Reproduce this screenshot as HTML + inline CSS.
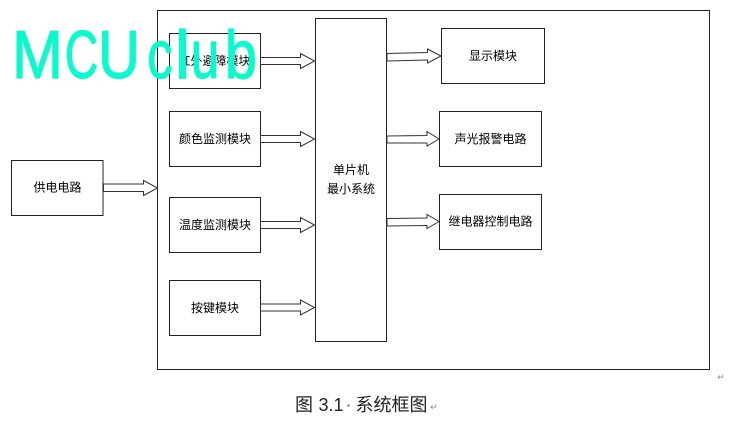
<!DOCTYPE html>
<html><head><meta charset="utf-8"><style>
html,body{margin:0;padding:0;background:#fff;width:733px;height:423px;overflow:hidden}
svg{display:block}
text{font-family:"Liberation Sans","Noto Sans CJK SC","WenQuanYi Zen Hei",sans-serif;fill:#000;font-size:12px;text-anchor:middle;dominant-baseline:central}
.b{fill:#fff;stroke:#222;stroke-width:1}
.a{fill:#fff;stroke:#333;stroke-width:1}
.w{font-size:68px;fill:#0CF9CE;stroke:#0CF9CE;stroke-width:1.2;stroke-linejoin:round;dominant-baseline:auto}
.c{font-size:18px;fill:#222}
</style></head><body>
<svg width="733" height="423" viewBox="0 0 733 423" xmlns="http://www.w3.org/2000/svg">
<rect class="b" x="157.5" y="10.5" width="552" height="359"/>
<rect class="b" x="169.5" y="33.5" width="91" height="55"/>
<rect class="b" x="169.5" y="111.5" width="91" height="55"/>
<rect class="b" x="169.5" y="197.5" width="91" height="55"/>
<rect class="b" x="169.5" y="280.5" width="91" height="55"/>
<rect class="b" x="11.5" y="160.5" width="91.5" height="55"/>
<rect class="b" x="315.5" y="18.5" width="71" height="323"/>
<rect class="b" x="441.5" y="28.5" width="103" height="55"/>
<rect class="b" x="439.5" y="111.5" width="102" height="55"/>
<rect class="b" x="439.5" y="194.5" width="102" height="55"/>
<path class="a" d="M260.5 57.5H300.5V53.5L314.5 61L300.5 68.5V64.5H260.5Z"/>
<path class="a" d="M260.5 135.5H300.5V131.5L314.5 139L300.5 146.5V142.5H260.5Z"/>
<path class="a" d="M260.5 221.5H300.5V217.5L314.5 225L300.5 232.5V228.5H260.5Z"/>
<path class="a" d="M260.5 304H300.5V300L314.5 307.5L300.5 315V311H260.5Z"/>
<path class="a" d="M103.5 184H143.5V180.5L157.5 188L143.5 195.5V191.5H103.5Z"/>
<path class="a" d="M387 53.5L427.5 52.5V49L441 56L427.5 63V60L387 61Z"/>
<path class="a" d="M387 136L427 135.5V131.5L439 139L427 146V143L387 143Z"/>
<path class="a" d="M387 218.5L427 218V214.5L439 221.5L427 228.5V225.5L387 226Z"/>
<text x="214.5" y="61">红外避障模块</text>
<text x="215" y="139">颜色监测模块</text>
<text x="215" y="225">温度监测模块</text>
<text x="215" y="308">按键模块</text>
<text x="57.5" y="187.5">供电电路</text>
<text x="351" y="170">单片机</text>
<text x="351" y="189">最小系统</text>
<text x="493" y="56">显示模块</text>
<text x="490.5" y="139">声光报警电路</text>
<text x="490.5" y="221.5">继电器控制电路</text>
<text class="w" transform="translate(37.5 78) scale(.9 1)">M</text>
<text class="w" transform="translate(81.5 78) scale(.68 1)">C</text>
<text class="w" transform="translate(119 78) scale(.85 1)">U</text>
<text class="w" transform="translate(160 78) scale(.75 1)">c</text>
<text class="w" transform="translate(182.5 78)">l</text>
<text class="w" transform="translate(205 78) scale(.75 1)">u</text>
<text class="w" transform="translate(241 78) scale(.85 1)">b</text>
<text class="c" x="304" y="405">图</text>
<text class="c" x="331" y="405">3.1</text>
<circle cx="348.5" cy="405.5" r="1.3" fill="#888"/>
<text class="c" x="391.5" y="405">系统框图</text>
<text x="434" y="407" style="font-size:9px;fill:#888">↵</text>
<text x="721" y="377" style="font-size:9px;fill:#888">↵</text>
</svg>
</body></html>
